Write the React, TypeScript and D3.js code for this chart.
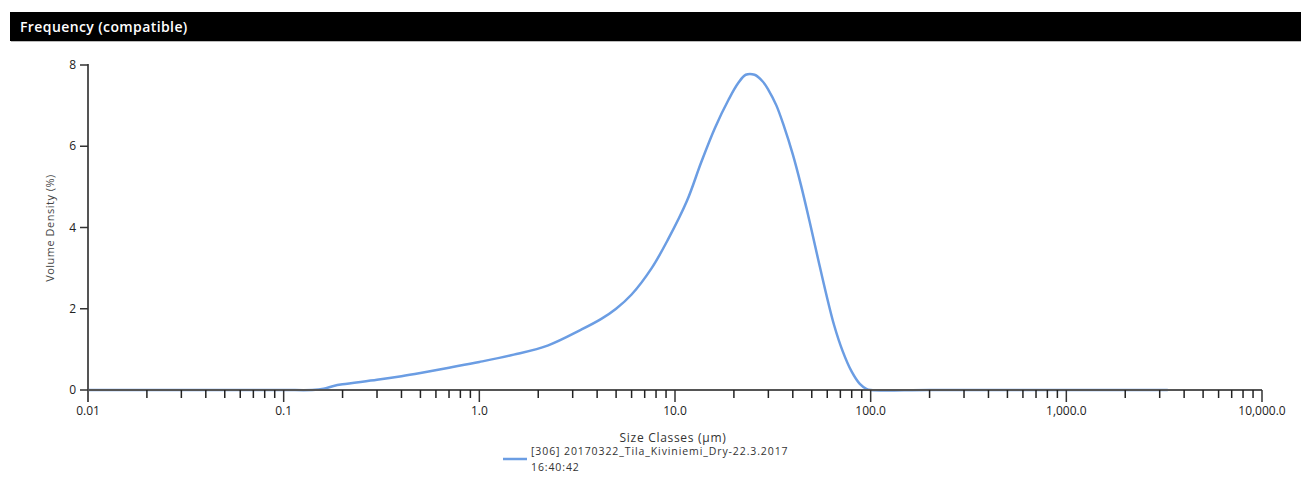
import React, { useEffect, useRef } from 'react';
import * as d3 from 'd3';

// size classes (µm), with volume density (%)
const sizes = [
  0.01, 0.02, 0.05, 0.1, 0.14, 0.16, 0.18, 0.2, 0.3, 0.4, 0.5, 0.7, 1.0, 1.5,
  2.25, 3.3, 4.2, 5.0, 6.0, 7.6, 9.2, 11.5, 13.6, 16, 18.8, 21, 23, 25.5,
  28, 30, 33, 36, 40, 44, 49, 54, 59, 65, 72, 80, 88, 95, 100, 200, 1000, 3300,
];
const density = [
  0, 0, 0, 0, 0, 0.03, 0.1, 0.14, 0.25, 0.34, 0.42, 0.55, 0.69, 0.87,
  1.1, 1.48, 1.75, 2.0, 2.35, 3.0, 3.7, 4.65, 5.6, 6.45, 7.15, 7.55, 7.76, 7.76,
  7.6, 7.39, 7.0, 6.5, 5.8, 5.05, 4.1, 3.2, 2.4, 1.6, 0.95, 0.45, 0.15, 0.03, 0, 0, 0, 0,
];
const xTicks = [0.01, 0.1, 1, 10, 100, 1000, 10000];
const xTickLabels = ['0.01', '0.1', '1.0', '10.0', '100.0', '1,000.0', '10,000.0'];
const yTicks = [0, 2, 4, 6, 8];
const seriesName = ['[306] 20170322_Tila_Kiviniemi_Dry-22.3.2017', '16:40:42'];

const W = 1301;
const H = 479;
const font = '"Open Sans", "DejaVu Sans", sans-serif';

const App = () => {
  const ref = useRef<SVGSVGElement>(null);

  useEffect(() => {
    const svg = d3.select(ref.current);
    svg.selectAll('*').remove();

    // title bar
    svg.append('rect').attr('x', 11).attr('y', 14).attr('width', W - 11).attr('height', 28).attr('fill', '#bbb');
    svg.append('rect').attr('x', 10).attr('y', 12).attr('width', W - 10).attr('height', 29).attr('fill', '#000');
    svg.append('text').attr('x', 20).attr('y', 32).attr('fill', '#fff')
      .attr('font-family', font).attr('font-size', 14).attr('font-weight', 600)
      .attr('letter-spacing', 0.4)
      .text('Frequency (compatible)');

    const x = d3.scaleLog().domain([0.01, 10000]).range([88, 1262]);
    const y = d3.scaleLinear().domain([0, 8]).range([390, 65]);
    const axisColor = '#555';

    // line
    const pts = sizes.map((s, i) => [s, density[i]] as [number, number]);
    const line = d3.line<[number, number]>()
      .x(d => x(d[0])).y(d => Math.min(y(0), y(d[1])))
      .curve(d3.curveCatmullRom.alpha(0.5));
    svg.append('path').datum(pts).attr('d', line).attr('fill', 'none')
      .attr('stroke', '#6b9de3').attr('stroke-width', 2.5);

    // x axis
    const g = svg.append('g');
    g.append('line').attr('x1', x(0.01)).attr('x2', x(10000)).attr('y1', 390).attr('y2', 390)
      .attr('stroke', axisColor).attr('stroke-width', 2);
    const minor: number[] = [];
    for (let e = -2; e < 4; e++) {
      for (let m = 2; m <= 9; m++) minor.push(m * Math.pow(10, e));
    }
    minor.forEach(v => {
      g.append('line').attr('x1', x(v)).attr('x2', x(v)).attr('y1', 390).attr('y2', 398)
        .attr('stroke', '#222').attr('stroke-width', 1.5);
    });
    xTicks.forEach((v, i) => {
      g.append('line').attr('x1', x(v)).attr('x2', x(v)).attr('y1', 390).attr('y2', 402)
        .attr('stroke', '#333').attr('stroke-width', 1.5);
      g.append('text').attr('x', x(v)).attr('y', 415).attr('text-anchor', 'middle')
        .attr('font-family', font).attr('font-size', 12).attr('fill', '#222')
        .text(xTickLabels[i]);
    });
    g.append('text').attr('x', 673).attr('y', 442).attr('text-anchor', 'middle')
      .attr('font-family', font).attr('font-size', 12).attr('letter-spacing', 0.7).attr('fill', '#333')
      .text('Size Classes (µm)');

    // y axis
    g.append('line').attr('x1', 88).attr('x2', 88).attr('y1', 64).attr('y2', 402)
      .attr('stroke', axisColor).attr('stroke-width', 2);
    yTicks.forEach(v => {
      g.append('line').attr('x1', 80).attr('x2', 88).attr('y1', y(v)).attr('y2', y(v))
        .attr('stroke', '#333').attr('stroke-width', 1.5);
      g.append('text').attr('x', 76).attr('y', y(v) + 4).attr('text-anchor', 'end')
        .attr('font-family', font).attr('font-size', 12).attr('fill', '#222')
        .text(String(v));
    });
    g.append('text').attr('transform', 'translate(54,228) rotate(-90)').attr('text-anchor', 'middle')
      .attr('font-family', font).attr('font-size', 11).attr('letter-spacing', 0.5).attr('fill', '#444')
      .text('Volume Density (%)');

    // legend
    g.append('line').attr('x1', 503).attr('x2', 527).attr('y1', 459).attr('y2', 459)
      .attr('stroke', '#6b9de3').attr('stroke-width', 2.5);
    seriesName.forEach((t, i) => {
      g.append('text').attr('x', 531).attr('y', 455 + i * 16)
        .attr('font-family', font).attr('font-size', 10.5).attr('letter-spacing', 0.9).attr('fill', '#333')
        .text(t);
    });
  }, []);

  return (
    <svg ref={ref} width={W} height={H}
      style={{ position: 'absolute', left: 0, top: 0, background: '#fff' }} />
  );
};

export default App;
